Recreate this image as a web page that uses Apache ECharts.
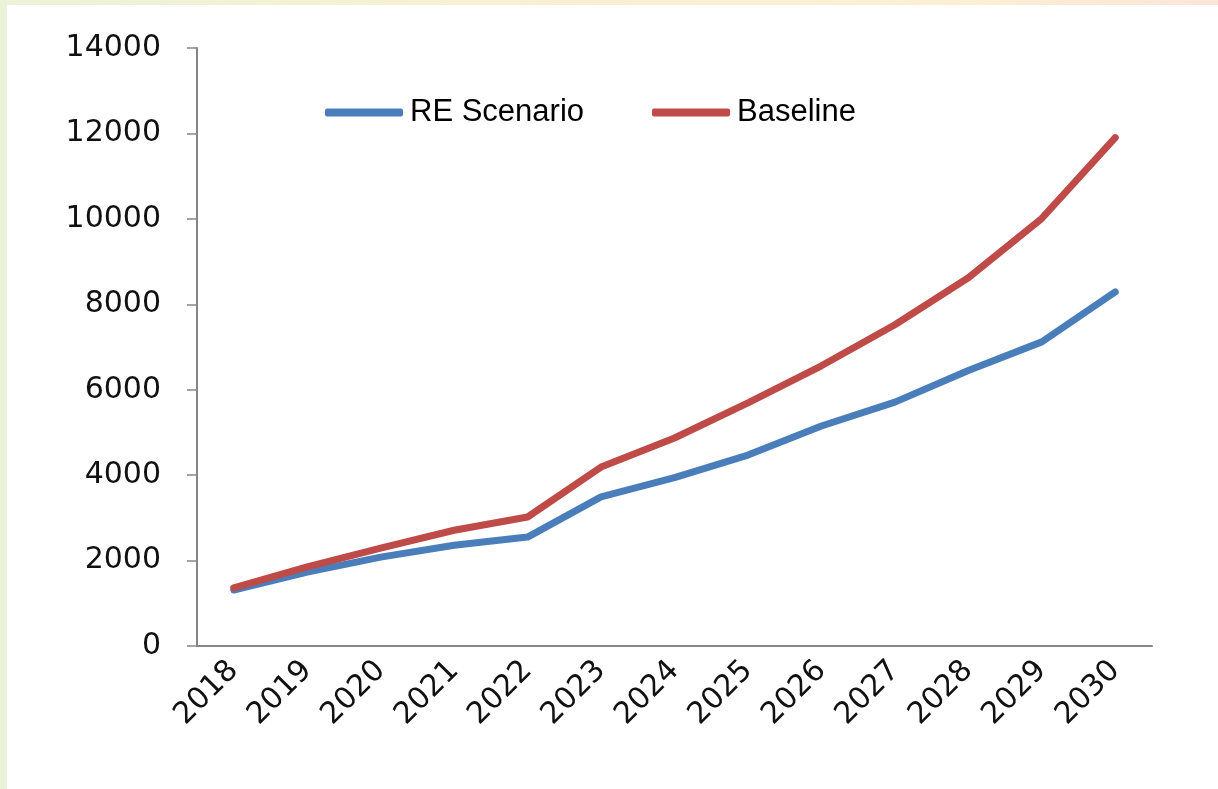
<!doctype html>
<html lang="en">
<head>
    <meta charset="UTF-8">
    <title>RE Scenario vs Baseline</title>
    <style>
        html, body { margin: 0; padding: 0; }
        body {
            width: 1218px; height: 789px; overflow: hidden;
            background: linear-gradient(to right, #eaf3d8, #f8f0d2 40%, #fbefd4 80%, #fbe4d8);
            position: relative;
        }
        #frame {
            position: absolute; left: 7px; top: 5px; width: 1211px; height: 784px;
            background: #fff;
        }
        #main { position: absolute; left: -7px; top: -5px; width: 1218px; height: 789px; }
    </style>
</head>
<body>
<div id="frame"><div id="main"></div></div>
<script type="text/javascript" src="https://cdn.jsdelivr.net/npm/echarts@6/dist/echarts.min.js"></script>
<script type="text/javascript">
    // values
    var years = ['2018', '2019', '2020', '2021', '2022', '2023', '2024', '2025', '2026', '2027', '2028', '2029', '2030'];
    var reScenario = [1310, 1730, 2080, 2360, 2550, 3490, 3940, 4470, 5150, 5710, 6450, 7120, 8290];
    var baseline = [1360, 1850, 2290, 2710, 3020, 4190, 4870, 5690, 6560, 7520, 8620, 10010, 11900];

    var myChart = echarts.init(document.getElementById('main'));
    var axisColor = '#868686';

    var option = {
        animation: false,
        backgroundColor: 'transparent',
        grid: { left: 197, right: 66, top: 48, bottom: 143 },
        legend: {
            left: 320, top: 92,
            itemWidth: 78, itemHeight: 8,
            itemGap: 68,
            icon: 'roundRect',
            textStyle: { fontFamily: 'Liberation Sans', fontSize: 31, color: '#000', padding: [0, 0, 0, 2] },
            data: ['RE Scenario', 'Baseline']
        },
        xAxis: {
            type: 'category',
            data: years,
            boundaryGap: true,
            axisLine: { lineStyle: { color: axisColor, width: 2 } },
            axisTick: { length: 10, lineStyle: { color: axisColor, width: 1.5 } },
            axisLabel: {
                rotate: 45, margin: 20, color: '#111',
                fontFamily: 'DejaVu Sans', fontSize: 30
            }
        },
        yAxis: {
            type: 'value',
            min: 0, max: 14000, interval: 2000,
            splitLine: { show: false },
            axisLine: { show: true, lineStyle: { color: axisColor, width: 2 } },
            axisTick: { show: true, length: 10, lineStyle: { color: axisColor, width: 1.5 } },
            axisLabel: {
                margin: 36, color: '#111',
                fontFamily: 'DejaVu Sans', fontSize: 30,
                formatter: function (v) { return String(v); }
            }
        },
        series: [{
            name: 'RE Scenario',
            type: 'line',
            data: reScenario,
            showSymbol: false,
            symbol: 'none',
            color: '#4a7ebb',
            lineStyle: { width: 7, color: '#4a7ebb', cap: 'round', join: 'round' }
        }, {
            name: 'Baseline',
            type: 'line',
            data: baseline,
            showSymbol: false,
            symbol: 'none',
            color: '#be4b48',
            lineStyle: { width: 7, color: '#be4b48', cap: 'round', join: 'round' }
        }]
    };
    myChart.setOption(option);
</script>
</body>
</html>
